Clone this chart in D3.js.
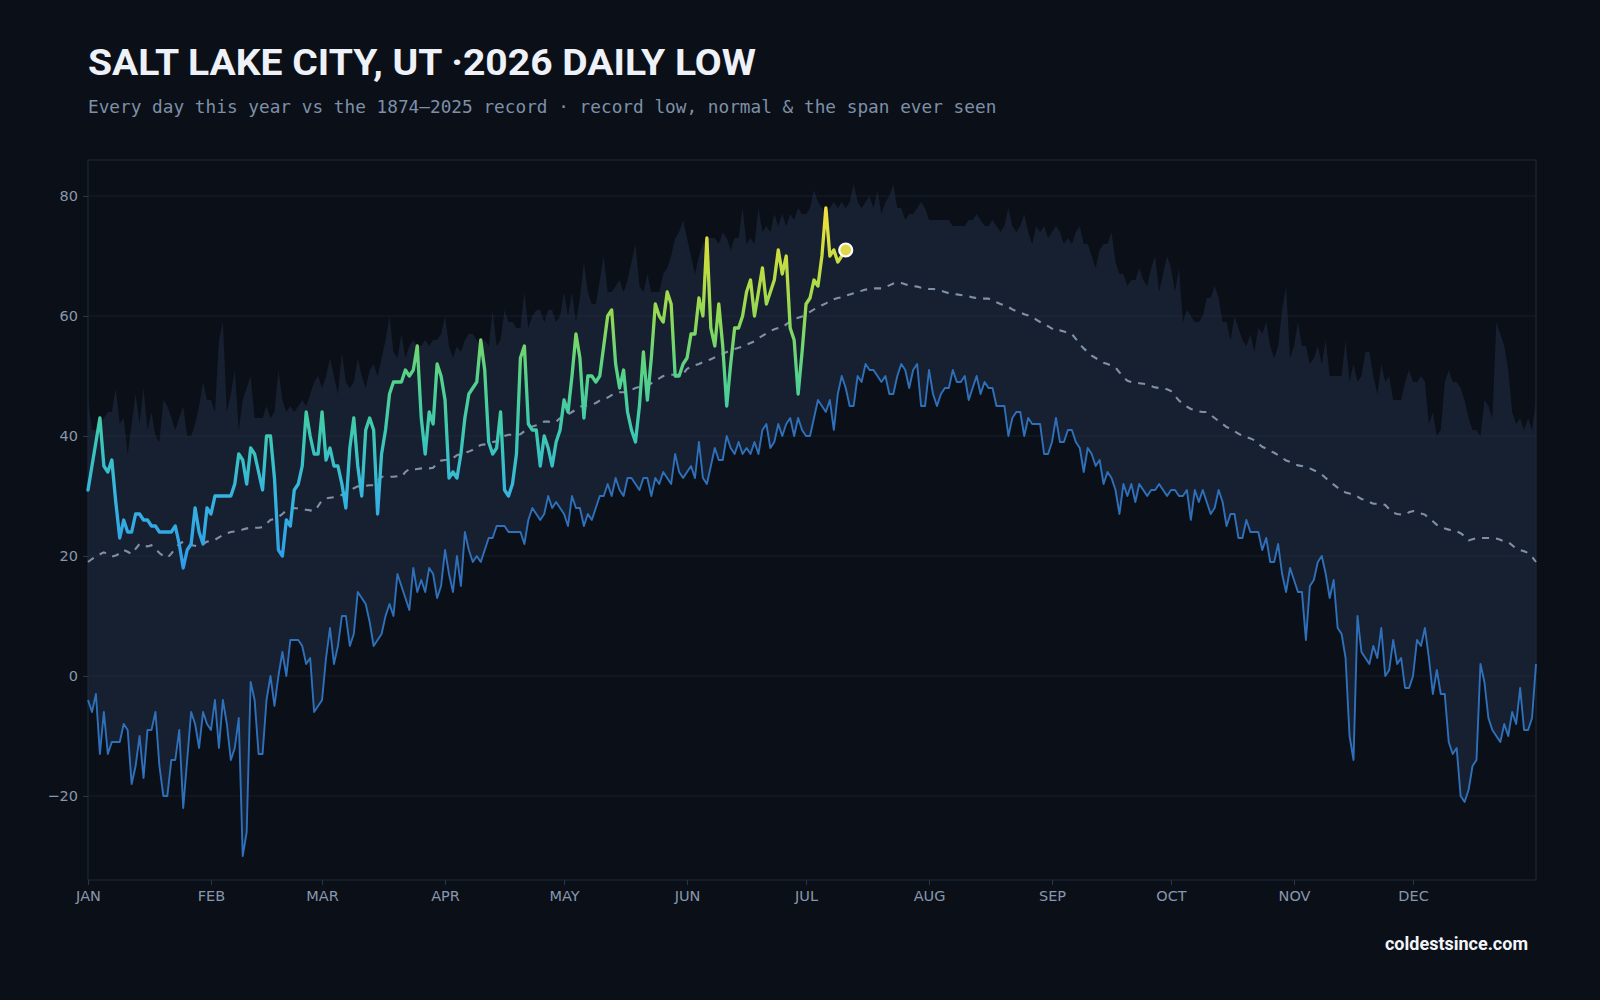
<!DOCTYPE html>
<html><head><meta charset="utf-8">
<script src="https://cdn.jsdelivr.net/npm/d3@7"></script>
<style>
html,body{margin:0;padding:0;background:#0b0f17;}
svg{display:block;}
</style></head>
<body>
<svg id="chart" width="1600" height="1000"></svg>
<script>
// ---------- DATA ----------
const monthStarts = [0,31,59,90,120,151,181,212,243,273,304,334];
const monthLabels = ["JAN","FEB","MAR","APR","MAY","JUN","JUL","AUG","SEP","OCT","NOV","DEC"];
const yTicks = [-20,0,20,40,60,80];

// record highest daily low (top of the "span ever seen"), day 0..365
const recordHigh = [
46,41,41,42,43,44,44,48,42,43,37,42,47,42,48,41,44,40,39,46,45,43,41,43,45,40,40,42,45,49,46,46,44,56,59,44,47,51,41,46,48,50,43,43,43,45,43,44,
51,46,44,45,44,45,46,45,47,49,50,48,50,53,50,47,54,49,48,49,53,50,48,51,52,50,53,56,60,54,53,57,53,55,56,55,55,56,55,56,56,57,60,55,53,55,54,56,57,57,
56,55,56,55,61,55,56,61,59,59,58,58,64,58,60,61,61,59,61,61,59,60,64,60,64,59,63,69,64,62,62,66,70,64,64,65,66,64,66,69,72,65,64,67,64,64,64,67,
68,70,73,74,76,73,70,67,70,72,73,73,73,72,74,73,71,73,73,78,72,73,72,78,74,75,74,77,75,77,75,77,76,78,77,77,78,81,79,78,77,78,79,78,79,78,79,82,79,
78,79,80,78,81,77,79,80,82,78,78,76,77,77,78,79,78,76,76,76,76,76,76,75,75,75,75,76,76,77,76,75,75,76,75,74,75,78,75,74,75,77,74,72,75,74,75,73,74,75,
74,72,73,72,74,75,72,72,70,68,71,72,72,74,69,67,67,65,66,66,68,66,65,68,70,64,67,70,68,64,68,59,61,60,59,59,60,63,63,65,63,59,59,56,60,58,56,55,57,54,58,57,59,55,53,55,61,65,53,55,59,55,
55,52,53,55,52,56,50,50,50,50,56,49,52,49,50,54,54,50,47,52,49,50,46,46,46,49,51,49,49,50,49,42,44,40,41,49,51,49,49,48,46,43,41,41,40,46,45,43,59,57,55,51,44,42,43,41,43,41,46
];

// record lowest daily low, day 0..365
const recordLow = [
-4,-6,-3,-13,-6,-13,-11,-11,-11,-8,-9,-18,-15,-10,-17,-9,-9,-6,-15,-20,-20,-14,-14,-9,-22,-14,-6,-8,-12,-6,-8,-9,-4,-12,-4,-8,-14,-12,-7,-30,-26,-1,-4,-13,-13,-4,0,-5,0,4,0,6,6,6,5,2,3,-6,-5,-4,
3,8,2,5,10,10,5,7,14,13,12,9,5,6,7,10,12,10,17,15,13,11,18,14,16,14,18,17,13,15,21,17,14,20,15,24,21,
19,20,19,21,23,23,25,25,25,24,24,24,24,22,26,28,27,26,27,30,28,29,28,27,25,30,28,28,25,27,26,28,30,30,32,30,33,31,30,33,33,32,31,33,33,30,33,32,34,
33,32,37,34,33,34,35,33,39,33,32,35,38,36,36,40,38,37,39,37,38,37,39,37,41,42,38,39,42,40,42,43,40,43,41,40,40,43,46,45,44,46,41,47,50,48,45,45,50,
49,52,51,51,50,49,50,47,47,50,52,51,48,51,52,45,45,51,47,45,47,48,48,51,49,49,50,46,48,50,47,49,48,48,45,45,45,40,43,44,44,40,43,42,42,42,37,37,39,43,
39,39,41,41,39,38,34,38,37,35,36,32,34,33,31,27,32,30,32,29,32,31,30,31,31,32,31,30,31,31,30,30,31,26,31,29,31,29,27,28,31,29,25,27,27,23,23,26,24,24,24,21,23,19,19,22,17,14,18,16,14,14,
6,15,16,19,20,17,13,16,8,7,3,-10,-14,10,4,3,2,5,3,8,0,1,6,2,3,-2,-2,0,6,5,8,3,-3,1,-3,-3,-11,-13,-12,-20,-21,-19,-15,-14,2,-1,-7,-9,-10,-11,-8,-10,-6,-8,-2,-9,-9,-7,2
];

// normal daily low, day 0..365
const normalLow = [
19,19.5,19.9,20.3,20.6,20.3,19.9,20.1,20.4,21,
20.7,20.3,21.2,22,21.7,21.6,21.8,21.2,20.5,20,
19.7,20.4,21.3,22,22.4,22.1,21.8,21.7,21.6,22,
22.4,22.5,22.7,23.1,23.5,23.8,24,24.1,24.2,24.4,
24.6,24.6,24.7,24.7,24.8,25.4,26,26.2,26.5,27,
27.6,27.9,28,27.9,27.8,27.7,27.6,27.5,28.3,29.3,
29.6,29.7,29.8,29.9,30.2,30.6,30.9,31.3,31.6,31.6,
31.7,31.8,31.8,32.5,33.2,33.2,33.2,33.2,33.3,33.2,
34,34.5,34.4,34.5,34.6,34.6,34.6,34.7,35.4,35.9,
36,36.1,36.3,36.8,37,37.2,37.4,37.7,38.2,38.5,
38.6,38.8,39,39.1,39.5,40,40.2,40.2,40.2,40.3,
40.8,41.2,41.6,41.8,42.1,42.4,42.4,42.3,42.4,43,
43.4,43.6,44,44.4,44.9,45,45.1,45.2,45.5,45.9,
46.2,46.4,46.8,47.2,47.3,47.3,47.4,47.7,48,48.2,
48.4,48.5,48.8,49.2,49.6,50,50.2,50.2,50.2,50.2,
50.3,51.2,51.5,51.8,52,52.3,52.5,52.8,53.1,53.4,
53.7,54,54.3,54.5,54.7,54.9,55.2,55.5,55.8,56.3,
56.7,57.1,57.5,57.8,58,58.1,58.6,59.1,59.5,59.7,
59.9,60.3,60.7,61.1,61.4,61.8,62.1,62.5,62.8,63,
63.1,63.4,63.6,63.8,64.1,64.2,64.4,64.5,64.6,64.6,
64.6,64.8,65.1,65.4,65.6,65.5,65.3,65.1,65,64.9,
64.7,64.6,64.5,64.5,64.4,64.2,64,63.8,63.7,63.6,
63.5,63.4,63.3,63.1,63,63,62.9,62.9,62.6,62.3,
62,61.8,61.5,61.1,60.8,60.6,60.3,60.1,59.8,59.4,
59,58.6,58.3,57.9,57.5,57.6,57.4,57.2,57,56.2,
55.3,54.6,54,53.4,53,52.6,52.2,52,51.7,51.4,
50.6,49.8,49.2,49,48.9,48.8,48.7,48.6,48.3,48.1,
48,47.9,47.8,47.5,46.7,45.9,45.4,44.9,44.5,44.3,
44.1,44,44,43.5,43,42.5,42,41.5,41.2,40.8,
40.4,40,39.8,39.6,39.3,38.7,38.2,37.9,37.5,37.2,
36.8,36.4,35.9,35.7,35.4,35.1,35,34.8,34.6,34.3,
34,33.6,33,32.4,31.9,31.4,30.9,30.6,30.4,30.2,
29.9,29.5,29.3,29,28.7,28.7,28.7,28.5,27.8,27.2,
27,26.9,26.9,27.3,27.5,27.3,27.1,26.9,26.3,25.8,
25.2,24.8,24.6,24.4,24.3,24.1,23.8,23.3,22.6,22.8,
23,23,23,23,23,22.9,22.7,22.4,22.3,21.8,
21.2,21,20.8,20.5,19.9,19
];

// 2026 observed daily low, day 0..191
const obs2026 = [
31,35,39,43,35,34,36,29,23,26,
24,24,27,27,26,26,25,25,24,24,
24,24,25,22,18,21,22,28,24,22,
28,27,30,30,30,30,30,32,37,36,
32,38,37,34,31,40,40,33,21,20,
26,25,31,32,35,44,40,37,37,44,
36,38,35,35,32,28,38,43,35,30,
41,43,41,27,37,41,47,49,49,49,
51,50,51,55,43,37,44,42,52,50,
46,33,34,33,37,43,47,48,49,56,
51,39,37,38,44,31,30,32,37,53,
55,42,41,41,35,40,38,35,39,41,
46,44,50,57,53,43,50,50,49,50,
55,60,61,52,48,51,44,41,39,45,
54,46,53,62,60,59,64,62,50,50,
52,53,57,57,63,60,73,58,55,62,
55,45,52,58,58,60,64,66,60,64,
68,62,64,66,71,67,70,58,56,47,
54,62,63,66,65,70,78,70,71,69,
70,71
];

// colour ramp for the 2026 line (temperature -> colour)
const rampTemps  = [18, 30, 40, 50, 60, 70, 78];
const rampColors = ["#2f9ce8","#35b4e0","#3cc8b4","#55d28a","#90d955","#cbdd3e","#f2e040"];

// ---------- CHART ----------
const svg = d3.select("#chart");
const L = 88, R = 1536, T = 160, B = 880;
const x = d3.scaleLinear().domain([0, 365]).range([L, R]);
const y = d3.scaleLinear().domain([-34, 86]).range([B, T]);

svg.append("rect").attr("width",1600).attr("height",1000).attr("fill","#0b0f17");

// titles
svg.append("text").attr("x",88).attr("y",75)
  .attr("font-family","Roboto, 'Open Sans', sans-serif").attr("font-weight",700)
  .attr("font-size",37).attr("fill","#eef2f8")
  .attr("textLength",668).attr("lengthAdjust","spacingAndGlyphs")
  .text("SALT LAKE CITY, UT ·2026 DAILY LOW");
svg.append("text").attr("x",88).attr("y",112.5)
  .attr("font-family","'DejaVu Sans Mono', monospace")
  .attr("font-size",17.75).attr("fill","#7d90a8")
  .text("Every day this year vs the 1874–2025 record · record low, normal & the span ever seen");

// plot background
svg.append("rect").attr("x",L).attr("y",T).attr("width",R-L).attr("height",B-T).attr("fill","#0b0f17");

const days = recordHigh.map((_, i) => i);

// span area
svg.append("path")
  .datum(days)
  .attr("fill","#172030")
  .attr("d", d3.area().x(i => x(i)).y0(i => y(recordLow[i])).y1(i => y(recordHigh[i])));

// gridlines
svg.append("g").selectAll("line").data(yTicks).join("line")
  .attr("x1",L).attr("x2",R).attr("y1",d=>y(d)).attr("y2",d=>y(d))
  .attr("stroke","#243044").attr("stroke-opacity",0.55).attr("stroke-width",1);

// frame
svg.append("rect").attr("x",L).attr("y",T).attr("width",R-L).attr("height",B-T)
  .attr("fill","none").attr("stroke","#1c2838").attr("stroke-width",1.2);

// record low line
svg.append("path").datum(days)
  .attr("fill","none").attr("stroke","#2f70bb").attr("stroke-width",1.9).attr("stroke-linejoin","round")
  .attr("d", d3.line().x(i => x(i)).y(i => y(recordLow[i])));

// normal dashed line
svg.append("path").datum(days)
  .attr("fill","none").attr("stroke","#7f91a9").attr("stroke-width",2.1).attr("stroke-dasharray","7,7")
  .attr("d", d3.line().x(i => x(i)).y(i => y(normalLow[i])));

// gradient for 2026 line
const defs = svg.append("defs");
const grad = defs.append("linearGradient").attr("id","obsGrad")
  .attr("gradientUnits","userSpaceOnUse")
  .attr("x1",0).attr("x2",0).attr("y1",y(rampTemps[0])).attr("y2",y(rampTemps[rampTemps.length-1]));
rampTemps.forEach((t, k) => {
  grad.append("stop")
    .attr("offset", (t - rampTemps[0]) / (rampTemps[rampTemps.length-1] - rampTemps[0]))
    .attr("stop-color", rampColors[k]);
});

const obsDays = obs2026.map((_, i) => i);
svg.append("path").datum(obsDays)
  .attr("fill","none").attr("stroke","url(#obsGrad)").attr("stroke-width",3.3)
  .attr("stroke-linejoin","round").attr("stroke-linecap","round")
  .attr("d", d3.line().x(i => x(i)).y(i => y(obs2026[i])));

// latest point
const last = obs2026.length - 1;
svg.append("circle").attr("cx",x(last)).attr("cy",y(obs2026[last])).attr("r",6.5)
  .attr("fill","#e2d84a").attr("stroke","#ffffff").attr("stroke-width",2.2);

// axes
const yAxis = svg.append("g").attr("transform",`translate(${L},0)`)
  .call(d3.axisLeft(y).tickValues(yTicks).tickSize(5).tickPadding(5));
const xAxis = svg.append("g").attr("transform",`translate(0,${B})`)
  .call(d3.axisBottom(x).tickValues(monthStarts).tickFormat((d,i)=>monthLabels[i]).tickSize(5).tickPadding(6));
[yAxis, xAxis].forEach(g => {
  g.select(".domain").remove();
  g.selectAll(".tick line").attr("stroke","#2b3748");
  g.selectAll(".tick text").attr("fill","#8797ad").attr("font-size",14.5)
    .attr("font-family","'DejaVu Sans', Verdana, sans-serif");
});

// footer
svg.append("text").attr("x",1528).attr("y",950).attr("text-anchor","end")
  .attr("font-family","Roboto, 'Open Sans', sans-serif").attr("font-weight",700)
  .attr("font-size",17.5).attr("fill","#f2f5fa")
  .attr("textLength",143).attr("lengthAdjust","spacingAndGlyphs")
  .text("coldestsince.com");
</script>
</body></html>
